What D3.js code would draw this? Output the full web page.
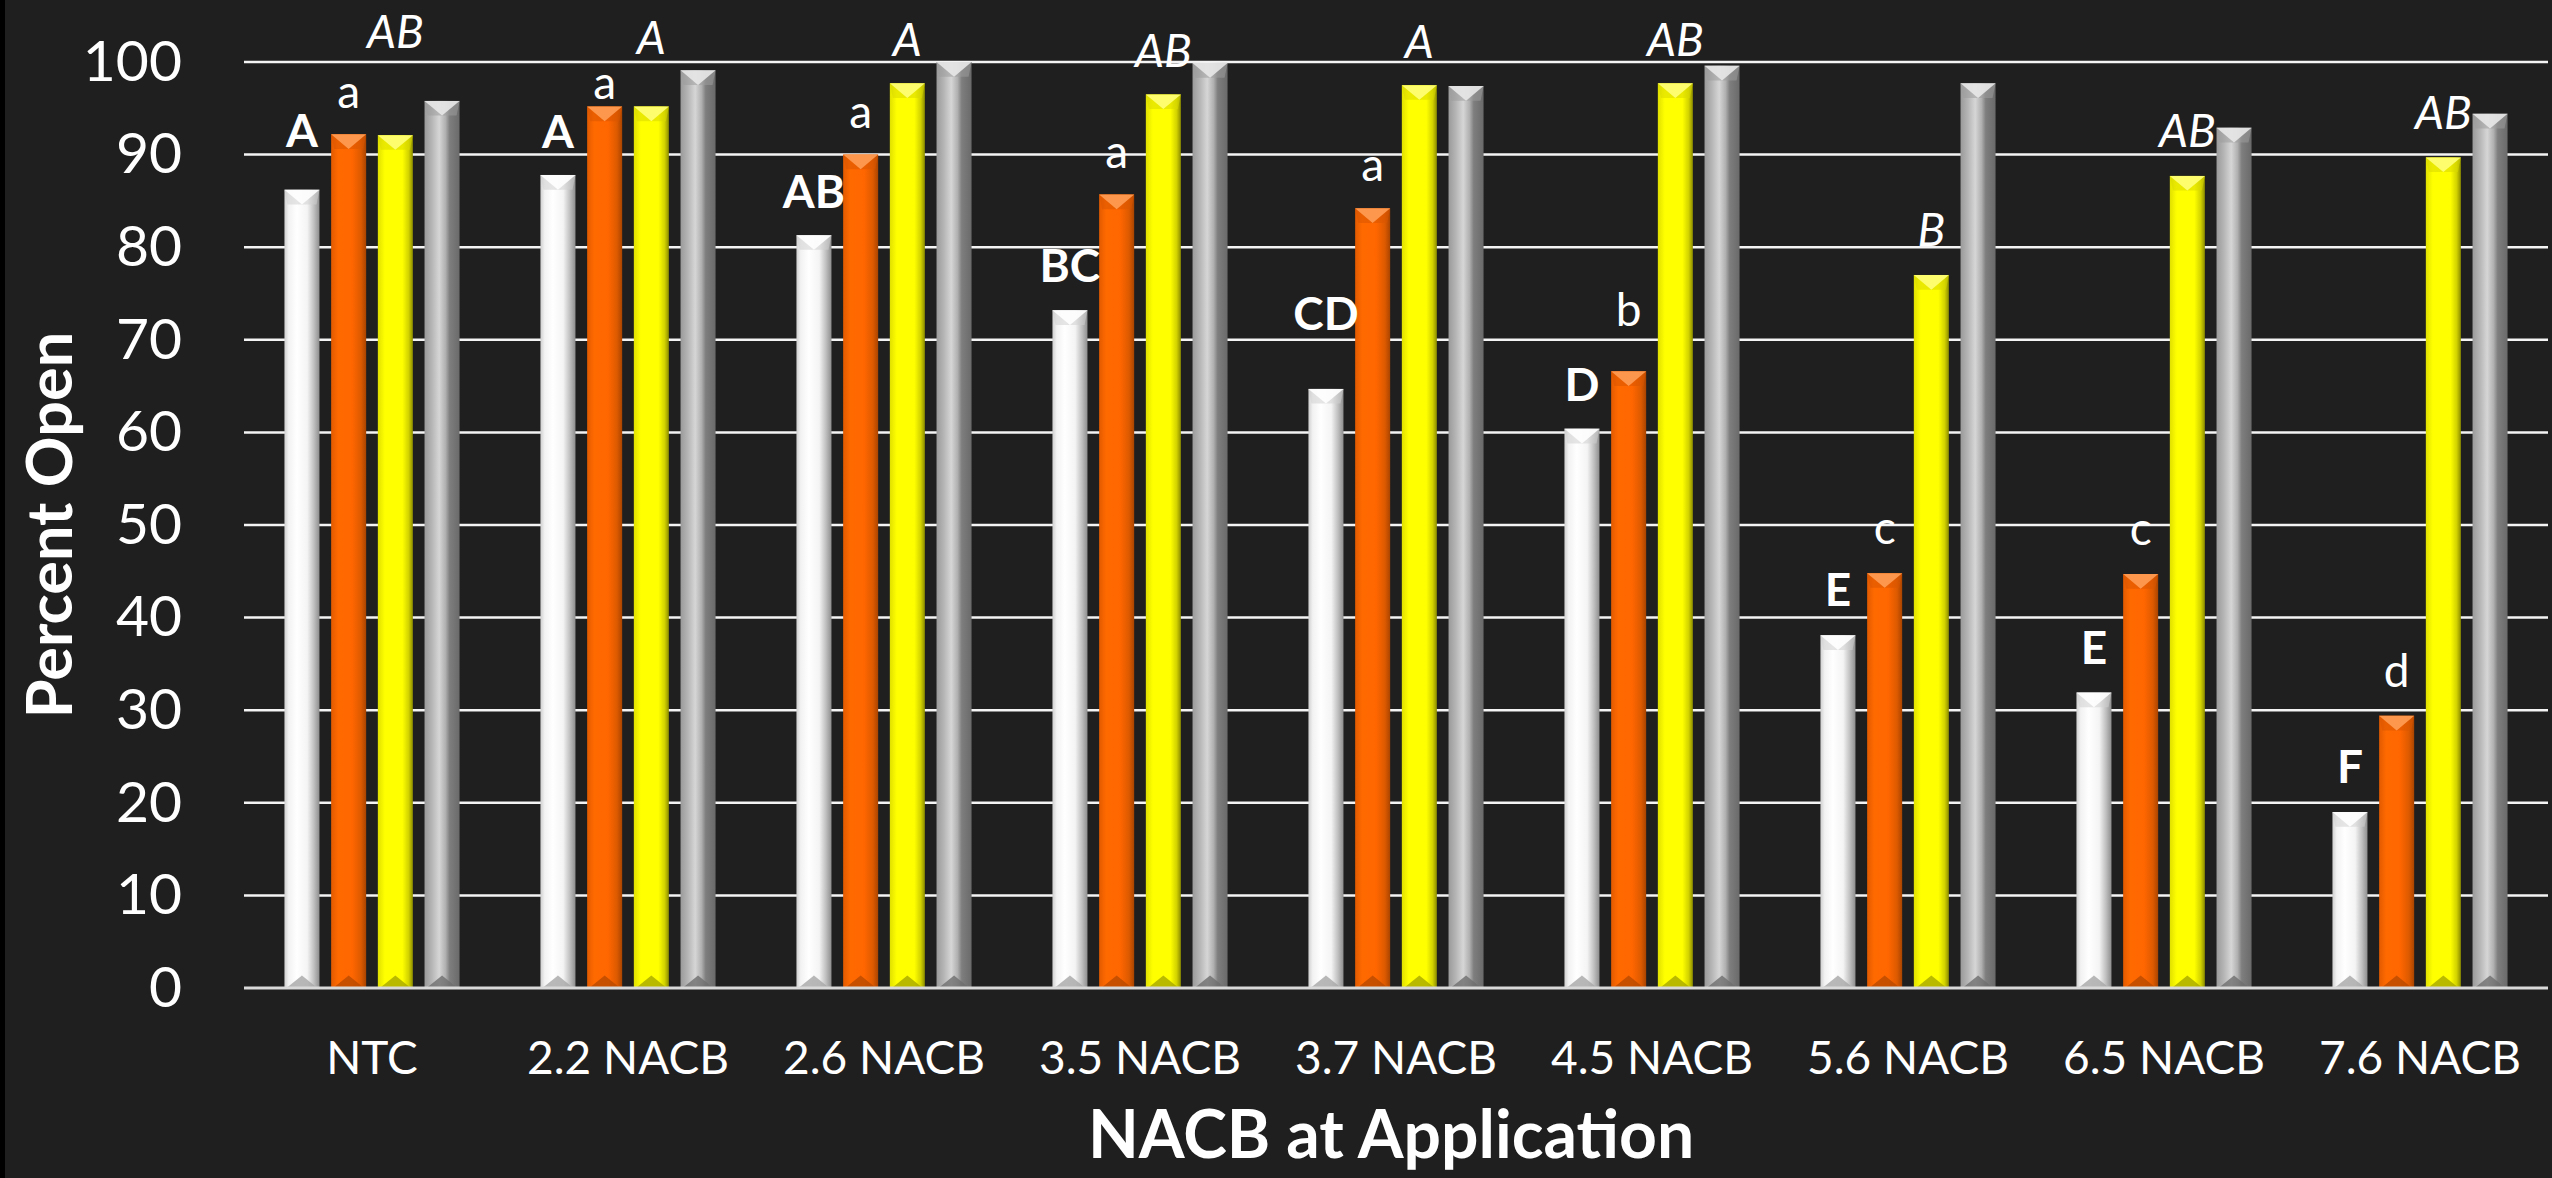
<!DOCTYPE html>
<html>
<head>
<meta charset="utf-8">
<script src="https://cdn.jsdelivr.net/npm/d3@7"></script>
<style>
    body { margin: 0; background: #1f1f1f; }
    text { font-family: Lato, "Open Sans", sans-serif; fill: #ffffff; }
</style>
</head>
<body>
<div id="chart"></div>
<script>
// Categories on the x axis
var categories = ["NTC", "2.2 NACB", "2.6 NACB", "3.5 NACB", "3.7 NACB", "4.5 NACB", "5.6 NACB", "6.5 NACB", "7.6 NACB"];

// Percent open for each of the four series (white, orange, yellow, gray bars)
var whiteValues  = [86.2, 87.8, 81.3, 73.2, 64.7, 60.4, 38.1, 31.9, 19.0];
var orangeValues = [92.2, 95.2, 90.0, 85.7, 84.2, 66.6, 44.8, 44.7, 29.4];
var yellowValues = [92.1, 95.2, 97.7, 96.5, 97.5, 97.7, 77.0, 87.7, 89.7];
var grayValues   = [95.8, 99.1, 100.0, 99.9, 97.4, 99.6, 97.7, 92.9, 94.4];

// Mean separation letters
var whiteLetters  = ["A", "A", "AB", "BC", "CD", "D", "E", "E", "F"];
var orangeLetters = ["a", "a", "a", "a", "a", "b", "c", "c", "d"];
var yellowLetters = ["AB", "A", "A", "AB", "A", "AB", "B", "AB", "AB"];

// Level (in percent) where each letter sits
var whiteLetterAt  = [90.8, 90.7, 84.2, 76.2, 71.1, 63.4, 41.2, 35.0, 22.1];
var orangeLetterAt = [95.0, 96.0, 92.9, 88.6, 87.1, 71.5, 47.9, 47.8, 32.5];
var yellowLetterAt = [101.5, 100.9, 100.6, 99.5, 100.4, 100.7, 80.1, 90.8, 92.8];

var yTicks = [0, 10, 20, 30, 40, 50, 60, 70, 80, 90, 100];
var seriesKeys = ["white", "orange", "yellow", "gray"];

// SVG dimensions
var svgWidth = 2552;
var svgHeight = 1178;
var margin = { top: 62, right: 4, bottom: 190, left: 244 };
var plotWidth = svgWidth - margin.left - margin.right;
var plotHeight = svgHeight - margin.top - margin.bottom;

var svg = d3.select("#chart")
    .append("svg")
    .attr("width", svgWidth)
    .attr("height", svgHeight);

svg.append("rect").attr("width", svgWidth).attr("height", svgHeight).attr("fill", "#1f1f1f");
svg.append("rect").attr("width", 5).attr("height", svgHeight).attr("fill", "#000");

// bar shading
var shades = {
    white:  { stops: [[0, "#cfcfcf"], [0.12, "#f2f2f2"], [0.35, "#ffffff"], [0.65, "#f4f4f4"], [0.85, "#bdbdbd"], [1, "#8e8e8e"]], top: "#ffffff", topSide: "#d0d0d0", bottom: "#a6a6a6" },
    orange: { stops: [[0, "#e25a00"], [0.2, "#ff6a00"], [0.6, "#ff6600"], [0.85, "#dd5a00"], [1, "#a94400"]], top: "#ff9d55", topSide: "#d85600", bottom: "#b84a00" },
    yellow: { stops: [[0, "#e0e000"], [0.2, "#ffff00"], [0.7, "#ffff00"], [0.88, "#d2d200"], [1, "#8c8c00"]], top: "#ffff7a", topSide: "#d9d900", bottom: "#a8a800" },
    gray:   { stops: [[0, "#9a9a9a"], [0.2, "#b4b4b4"], [0.42, "#d6d6d6"], [0.6, "#b0b0b0"], [0.72, "#7e7e7e"], [1, "#6a6a6a"]], top: "#e8e8e8", topSide: "#9c9c9c", bottom: "#6e6e6e" }
};

var defs = svg.append("defs");
seriesKeys.forEach(function(k) {
    var g = defs.append("linearGradient")
        .attr("id", "grad-" + k)
        .attr("x1", "0%").attr("x2", "100%").attr("y1", "0%").attr("y2", "0%");
    shades[k].stops.forEach(function(s) {
        g.append("stop").attr("offset", s[0]).attr("stop-color", s[1]);
    });
});

var chartGroup = svg.append("g")
    .attr("transform", `translate(${margin.left}, ${margin.top})`);

// Scales
var x0 = d3.scaleBand()
    .domain(categories)
    .range([0, plotWidth])
    .paddingInner(0.316)
    .paddingOuter(0.158);

var x1 = d3.scaleBand()
    .domain(seriesKeys)
    .range([0, x0.bandwidth()])
    .paddingInner(0.25);

var yScale = d3.scaleLinear()
    .domain([0, 100])
    .range([plotHeight, 0]);

// gridlines
chartGroup.append("g")
    .selectAll("line")
    .data(yTicks.filter(d => d > 0))
    .join("line")
    .attr("x1", 0)
    .attr("x2", plotWidth)
    .attr("y1", d => yScale(d))
    .attr("y2", d => yScale(d))
    .attr("stroke", "#f4f4f4")
    .attr("stroke-width", 2.5);

// y axis labels
var yAxis = d3.axisLeft(yScale).tickValues(yTicks).tickSize(0).tickPadding(62);
var yAxisG = chartGroup.append("g").call(yAxis);
yAxisG.select(".domain").remove();
yAxisG.selectAll("text").attr("font-size", 57).style("fill", "#fff");

// x axis labels
var xAxis = d3.axisBottom(x0).tickSize(0).tickPadding(53);
var xAxisG = chartGroup.append("g")
    .attr("transform", `translate(0, ${plotHeight})`)
    .call(xAxis);
xAxisG.select(".domain").remove();
xAxisG.selectAll("text").attr("font-size", 46).style("fill", "#fff");

// table built from the arrays
var valuesByKey = { white: whiteValues, orange: orangeValues, yellow: yellowValues, gray: grayValues };
var rows = categories.map(function(c, i) {
    return {
        cat: c,
        bars: seriesKeys.map(k => ({ key: k, value: valuesByKey[k][i] }))
    };
});

var groups = chartGroup.selectAll("g.cat")
    .data(rows)
    .join("g")
    .attr("class", "cat")
    .attr("transform", d => `translate(${x0(d.cat)}, 0)`);

var bw = x1.bandwidth();
var bars = groups.selectAll("g.bar")
    .data(d => d.bars)
    .join("g")
    .attr("class", "bar");

bars.append("rect")
    .attr("x", d => x1(d.key))
    .attr("y", d => yScale(d.value))
    .attr("width", bw)
    .attr("height", d => plotHeight - yScale(d.value))
    .attr("fill", d => `url(#grad-${d.key})`);

// top bevel: side band + light triangle
var capDepth = bw * 0.42;
bars.append("path")
    .attr("d", function(d) {
        var xl = x1(d.key), xr = xl + bw, yt = yScale(d.value);
        return `M${xl},${yt}L${xr},${yt}L${xr - 3},${yt + capDepth}L${xl + 3},${yt + capDepth}Z`;
    })
    .attr("fill", d => shades[d.key].topSide)
    .attr("opacity", 0.55);
bars.append("path")
    .attr("d", function(d) {
        var xl = x1(d.key), xr = xl + bw, yt = yScale(d.value);
        return `M${xl},${yt}L${xr},${yt}L${xl + bw / 2},${yt + capDepth}Z`;
    })
    .attr("fill", d => shades[d.key].top)
    .attr("opacity", 0.9);

// bottom bevel
var footDepth = bw * 0.36;
bars.append("path")
    .attr("d", function(d) {
        var xl = x1(d.key), xr = xl + bw, yb = yScale(0);
        return `M${xl + 2},${yb}L${xr - 2},${yb}L${xl + bw / 2},${yb - footDepth}Z`;
    })
    .attr("fill", d => shades[d.key].bottom)
    .attr("opacity", 0.8);

// baseline
chartGroup.append("line")
    .attr("x1", 0).attr("x2", plotWidth)
    .attr("y1", yScale(0)).attr("y2", yScale(0))
    .attr("stroke", "#d9d9d9")
    .attr("stroke-width", 3);

// letters
var letterSets = [
    { key: "white", letters: whiteLetters, at: whiteLetterAt, weight: "bold", style: "normal" },
    { key: "orange", letters: orangeLetters, at: orangeLetterAt, weight: "normal", style: "normal" },
    { key: "yellow", letters: yellowLetters, at: yellowLetterAt, weight: "normal", style: "italic" }
];
letterSets.forEach(function(set) {
    chartGroup.append("g")
        .selectAll("text")
        .data(categories)
        .join("text")
        .attr("x", (c) => x0(c) + x1(set.key) + bw / 2)
        .attr("y", (c, i) => yScale(set.at[i]))
        .attr("text-anchor", "middle")
        .attr("font-size", 46)
        .attr("font-weight", set.weight)
        .attr("font-style", set.style)
        .text((c, i) => set.letters[i]);
});

// axis titles
svg.append("text")
    .attr("x", margin.left + plotWidth / 2 - 5)
    .attr("y", 1158)
    .attr("text-anchor", "middle")
    .attr("font-size", 66)
    .attr("font-weight", "bold")
    .text("NACB at Application");

svg.append("text")
    .attr("transform", "translate(72, 525) rotate(-90)")
    .attr("text-anchor", "middle")
    .attr("font-size", 63)
    .attr("font-weight", "bold")
    .text("Percent Open");
</script>
</body>
</html>
